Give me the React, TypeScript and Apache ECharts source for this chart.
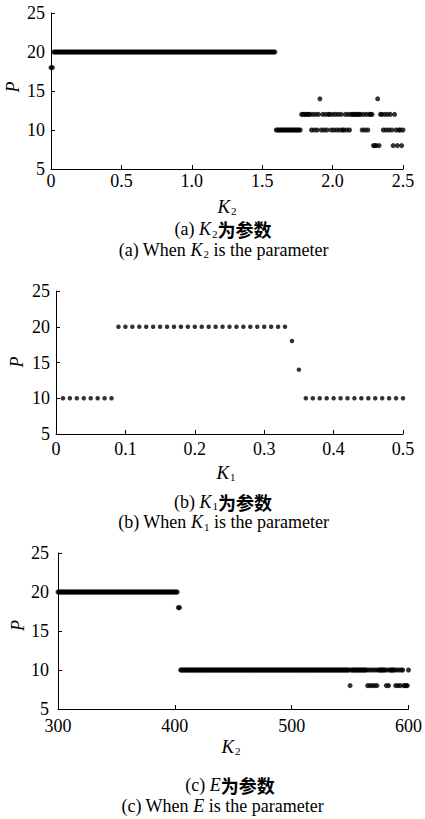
import React, { useEffect, useRef } from "react";
import * as echarts from "echarts";

// ---------- Panel (a): K2 (0..2.5) vs period P ----------
const aK18 = [0, 0.01];
const aK20 = [
  0.02, 0.03, 0.04, 0.05, 0.06, 0.07, 0.08, 0.09,
  0.1, 0.11, 0.12, 0.13, 0.14, 0.15, 0.16, 0.17, 0.18, 0.19,
  0.2, 0.21, 0.22, 0.23, 0.24, 0.25, 0.26, 0.27, 0.28, 0.29,
  0.3, 0.31, 0.32, 0.33, 0.34, 0.35, 0.36, 0.37, 0.38, 0.39,
  0.4, 0.41, 0.42, 0.43, 0.44, 0.45, 0.46, 0.47, 0.48, 0.49,
  0.5, 0.51, 0.52, 0.53, 0.54, 0.55, 0.56, 0.57, 0.58, 0.59,
  0.6, 0.61, 0.62, 0.63, 0.64, 0.65, 0.66, 0.67, 0.68, 0.69,
  0.7, 0.71, 0.72, 0.73, 0.74, 0.75, 0.76, 0.77, 0.78, 0.79,
  0.8, 0.81, 0.82, 0.83, 0.84, 0.85, 0.86, 0.87, 0.88, 0.89,
  0.9, 0.91, 0.92, 0.93, 0.94, 0.95, 0.96, 0.97, 0.98, 0.99,
  1.0, 1.01, 1.02, 1.03, 1.04, 1.05, 1.06, 1.07, 1.08, 1.09,
  1.1, 1.11, 1.12, 1.13, 1.14, 1.15, 1.16, 1.17, 1.18, 1.19,
  1.2, 1.21, 1.22, 1.23, 1.24, 1.25, 1.26, 1.27, 1.28, 1.29,
  1.3, 1.31, 1.32, 1.33, 1.34, 1.35, 1.36, 1.37, 1.38, 1.39,
  1.4, 1.41, 1.42, 1.43, 1.44, 1.45, 1.46, 1.47, 1.48, 1.49,
  1.5, 1.51, 1.52, 1.53, 1.54, 1.55, 1.56, 1.57, 1.58, 1.59,
];
const aK10 = [
  1.6, 1.61, 1.62, 1.63, 1.64, 1.65, 1.66, 1.67, 1.68, 1.69,
  1.7, 1.71, 1.72, 1.73, 1.74, 1.75, 1.76, 1.77,
  1.85, 1.87, 1.89, 1.92, 1.94, 1.96, 1.99, 2.01, 2.03, 2.05, 2.07, 2.08, 2.1, 2.12,
  2.21, 2.23, 2.25,
  2.36, 2.38, 2.4, 2.42, 2.45, 2.47, 2.48, 2.5,
];
const aK12 = [
  1.78, 1.79, 1.8, 1.81, 1.82, 1.83, 1.84,
  1.86, 1.88, 1.9, 1.93, 1.95, 1.97, 1.98, 2.0, 2.02, 2.04, 2.06, 2.09, 2.11, 2.13,
  2.14, 2.15, 2.16, 2.17, 2.18, 2.19, 2.2,
  2.22, 2.24, 2.26, 2.27, 2.28,
  2.34, 2.35, 2.37, 2.39, 2.41, 2.44,
];
const aK14 = [1.91, 2.32];
const aK8 = [2.29, 2.3, 2.31, 2.33, 2.43, 2.46, 2.49];

// ---------- Panel (b): K1 (0..0.5) vs P ----------
const bK10 = [
  0.01, 0.02, 0.03, 0.04, 0.05, 0.06, 0.07, 0.08,
  0.36, 0.37, 0.38, 0.39, 0.4, 0.41, 0.42, 0.43, 0.44, 0.45, 0.46, 0.47, 0.48, 0.49, 0.5,
];
const bK20 = [
  0.09, 0.1, 0.11, 0.12, 0.13, 0.14, 0.15, 0.16, 0.17, 0.18, 0.19,
  0.2, 0.21, 0.22, 0.23, 0.24, 0.25, 0.26, 0.27, 0.28, 0.29,
  0.3, 0.31, 0.32, 0.33,
];
const bK18 = [0.34];
const bK14 = [0.35];

// ---------- Panel (c): E (300..600) vs P ----------
const cE20 = [
  300, 301, 302, 303, 304, 305, 306, 307, 308, 309, 310, 311, 312, 313, 314, 315, 316, 317, 318, 319,
  320, 321, 322, 323, 324, 325, 326, 327, 328, 329, 330, 331, 332, 333, 334, 335, 336, 337, 338, 339,
  340, 341, 342, 343, 344, 345, 346, 347, 348, 349, 350, 351, 352, 353, 354, 355, 356, 357, 358, 359,
  360, 361, 362, 363, 364, 365, 366, 367, 368, 369, 370, 371, 372, 373, 374, 375, 376, 377, 378, 379,
  380, 381, 382, 383, 384, 385, 386, 387, 388, 389, 390, 391, 392, 393, 394, 395, 396, 397, 398, 399,
  400, 401, 402,
];
const cE18 = [403, 404];
const cE10 = [
  405, 406, 407, 408, 409, 410, 411, 412, 413, 414, 415, 416, 417, 418, 419, 420, 421, 422, 423, 424,
  425, 426, 427, 428, 429, 430, 431, 432, 433, 434, 435, 436, 437, 438, 439, 440, 441, 442, 443, 444,
  445, 446, 447, 448, 449, 450, 451, 452, 453, 454, 455, 456, 457, 458, 459, 460, 461, 462, 463, 464,
  465, 466, 467, 468, 469, 470, 471, 472, 473, 474, 475, 476, 477, 478, 479, 480, 481, 482, 483, 484,
  485, 486, 487, 488, 489, 490, 491, 492, 493, 494, 495, 496, 497, 498, 499, 500, 501, 502, 503, 504,
  505, 506, 507, 508, 509, 510, 511, 512, 513, 514, 515, 516, 517, 518, 519, 520, 521, 522, 523, 524,
  525, 526, 527, 528, 529, 530, 531, 532, 533, 534, 535, 536, 537, 538, 539, 540, 541, 542, 543, 544,
  545, 546, 547, 548, 549,
  551, 552, 553, 554, 555, 556, 557, 558, 559, 560, 561, 562, 563, 564,
  566, 568, 570, 572,
  574, 575, 576, 577, 578, 579, 580, 582, 584, 585, 586, 587, 588,
  590, 592, 594, 595, 600,
];
const cE8 = [550, 565, 567, 569, 571, 573, 581, 583, 589, 591, 593, 596, 597, 598, 599];

const yMin = 5;
const yMax = 25;
const yStep = 5;

const SERIF = "'Liberation Serif', 'Times New Roman', serif";
const CJK = "'Noto Sans CJK SC', sans-serif";

const richStyles = {
  t: { fontFamily: SERIF, fontSize: 18, lineHeight: 20, fill: "#000" },
  k: { fontFamily: SERIF, fontSize: 18, fontStyle: "italic", lineHeight: 20, fill: "#000" },
  kx: { fontFamily: SERIF, fontSize: 19, fontStyle: "italic", lineHeight: 20, fill: "#000" },
  s: { fontFamily: SERIF, fontSize: 11, lineHeight: 10, verticalAlign: "bottom", padding: [0, 0, 0, 1], fill: "#000" },
  c: { fontFamily: CJK, fontSize: 18, fontWeight: "bold", lineHeight: 20, fill: "#000" },
};

function richText(x: number, y: number, text: string) {
  return {
    type: "text",
    x,
    y,
    silent: true,
    style: {
      text,
      rich: richStyles,
      align: "center",
      verticalAlign: "middle",
      fill: "#000",
    },
  };
}

function pText(x: number, y: number) {
  return {
    type: "text",
    x,
    y,
    rotation: Math.PI / 2,
    silent: true,
    style: {
      text: "P",
      fontFamily: SERIF,
      fontSize: 18,
      fontStyle: "italic",
      align: "center",
      verticalAlign: "middle",
      fill: "#000",
    },
  };
}

const decFmt = (v: number) => (v === 0 ? "0" : v.toFixed(1));

function xAxisCfg(gi: number, min: number, max: number, interval: number, margin: number, fmt?: (v: number) => string) {
  return {
    type: "value",
    gridIndex: gi,
    min,
    max,
    interval,
    axisLine: { show: true, onZero: false, lineStyle: { color: "#000", width: 1 } },
    axisTick: { show: true, inside: true, length: 4, lineStyle: { color: "#000", width: 1 } },
    axisLabel: { color: "#000", fontFamily: SERIF, fontSize: 18, margin, formatter: fmt },
    splitLine: { show: false },
  };
}

function yAxisCfg(gi: number, margin: number) {
  return {
    type: "value",
    gridIndex: gi,
    min: yMin,
    max: yMax,
    interval: yStep,
    axisLine: { show: true, onZero: false, lineStyle: { color: "#000", width: 1 } },
    axisTick: { show: true, inside: true, length: 4, lineStyle: { color: "#000", width: 1 } },
    axisLabel: { color: "#000", fontFamily: SERIF, fontSize: 18, margin },
    splitLine: { show: false },
  };
}

function dotSeries(gi: number, xs: number[], p: number, size: number) {
  return {
    type: "scatter",
    xAxisIndex: gi,
    yAxisIndex: gi,
    data: xs.map((x) => [x, p]),
    symbol: "circle",
    symbolSize: size,
    itemStyle: { color: "#000" },
    clip: false,
    silent: true,
  };
}

export default function App() {
  const ref = useRef<HTMLDivElement>(null);
  useEffect(() => {
    if (!ref.current) return;
    const chart = echarts.init(ref.current, null, { renderer: "svg" });
    const option = {
      animation: false,
      backgroundColor: "#fff",
      grid: [
        { left: 51, top: 13, width: 352, height: 156 },
        { left: 56, top: 291, width: 347, height: 143 },
        { left: 58, top: 553, width: 352, height: 156 },
      ],
      xAxis: [
        xAxisCfg(0, 0, 2.5, 0.5, 3, decFmt),
        xAxisCfg(1, 0, 0.5, 0.1, 6, decFmt),
        xAxisCfg(2, 300, 600, 100, 8),
      ],
      yAxis: [yAxisCfg(0, 6), yAxisCfg(1, 6), yAxisCfg(2, 9)],
      series: [
        dotSeries(0, aK18, 18, 5),
        dotSeries(0, aK20, 20, 5),
        dotSeries(0, aK10, 10, 5),
        dotSeries(0, aK12, 12, 5),
        dotSeries(0, aK14, 14, 5),
        dotSeries(0, aK8, 8, 5),
        dotSeries(1, bK10, 10, 4.5),
        dotSeries(1, bK20, 20, 4.5),
        dotSeries(1, bK18, 18, 4.5),
        dotSeries(1, bK14, 14, 4.5),
        dotSeries(2, cE20, 20, 5),
        dotSeries(2, cE18, 18, 5),
        dotSeries(2, cE10, 10, 5),
        dotSeries(2, cE8, 8, 5),
      ],
      graphic: [
        pText(12.5, 87),
        richText(227, 206.5, "{kx|K}{s|2}"),
        richText(223, 229, "{t|(a) }{k|K}{s|2}{c|为参数}"),
        richText(223.5, 249.5, "{t|(a) When }{k|K}{s|2}{t| is the parameter}"),
        pText(17, 362),
        richText(226, 472.5, "{kx|K}{s|1}"),
        richText(223, 501.5, "{t|(b) }{k|K}{s|1}{c|为参数}"),
        richText(223.5, 522, "{t|(b) When }{k|K}{s|1}{t| is the parameter}"),
        pText(17.5, 625.5),
        richText(231, 746.5, "{kx|K}{s|2}"),
        richText(230, 784.5, "{t|(c) }{k|E}{c|为参数}"),
        richText(222.5, 805.5, "{t|(c) When }{k|E}{t| is the parameter}"),
      ],
    };
    chart.setOption(option as any);
    return () => chart.dispose();
  }, []);
  return (
    <div
      ref={ref}
      style={{ position: "absolute", left: 0, top: 0, width: 425, height: 819 }}
    />
  );
}
